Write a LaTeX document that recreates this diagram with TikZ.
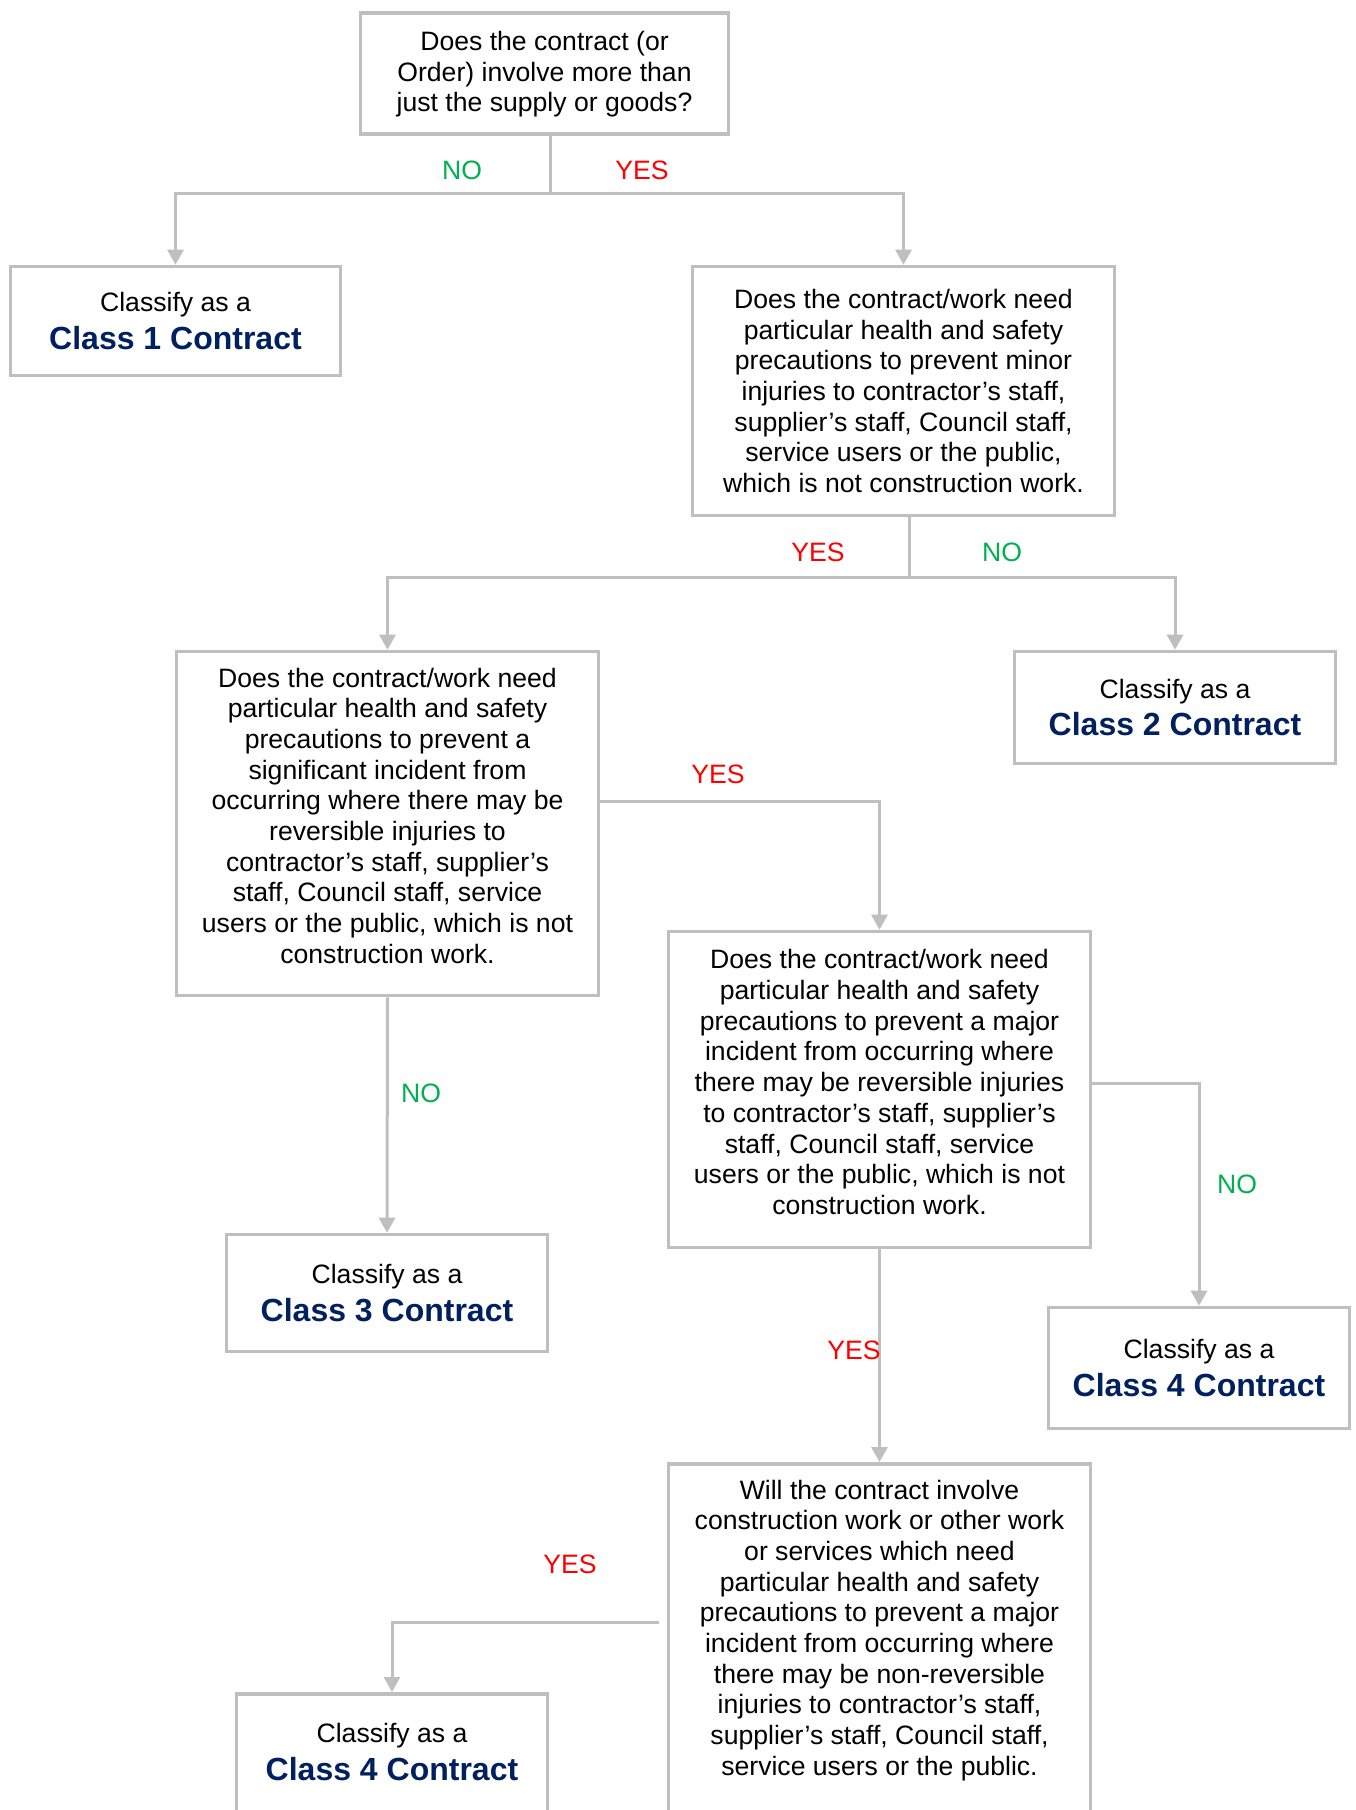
\documentclass[tikz,border=0pt]{standalone}
\usepackage{fontspec}
\setmainfont{Liberation Sans}
\usetikzlibrary{arrows.meta,calc}
\definecolor{lgray}{HTML}{BFBFBF}
\definecolor{navyc}{HTML}{002060}
\definecolor{nogreen}{HTML}{00B050}
\definecolor{yesred}{HTML}{FF0000}
\newcommand\clstext[1]{Classify as a\\[7pt]{\fontsize{32pt}{35pt}\selectfont\bfseries\color{navyc}Class #1 Contract}}
\begin{document}
\begin{tikzpicture}[x=1pt,y=-1pt,
  qbox/.style={draw=lgray, line width=3.6pt, fill=white, inner sep=0pt, align=center,
    font=\fontsize{26.6pt}{30.7pt}\selectfont},
  plaintext/.style={inner sep=0pt, align=center, font=\fontsize{26.6pt}{30.7pt}\selectfont},
  conn/.style={draw=lgray, line width=3pt, -{Triangle[width=16pt,length=15pt]}},
  link/.style={draw=lgray, line width=3pt},
  yeslbl/.style={inner sep=0pt, text=yesred, font=\fontsize{26.6pt}{30.7pt}\selectfont},
  nolbl/.style={inner sep=0pt, text=nogreen, font=\fontsize{26.6pt}{30.7pt}\selectfont},
]
\useasboundingbox (0,0) rectangle (1355,1810);
\clip (0,0) rectangle (1355,1810);

% boxes
\node[qbox, minimum width=368pt, minimum height=121pt] (q1) at (544.5,73.5)
  {\rule{0pt}{21pt}Does the contract (or\\Order) involve more than\\just the supply or goods?};
\node[qbox, minimum width=330pt, minimum height=109pt] (c1) at (175.5,321) {\clstext{1}};
\node[qbox, minimum width=422pt, minimum height=249pt] (q2) at (903.5,391)
  {Does the contract/work need\\particular health and safety\\precautions to prevent minor\\injuries to contractor’s staff,\\supplier’s staff, Council staff,\\service users or the public,\\which is not construction work.};
\node[qbox, minimum width=422pt, minimum height=344pt] (q3) at (387.5,823.5)
  {Does the contract/work need\\particular health and safety\\precautions to prevent a\\significant incident from\\occurring where there may be\\reversible injuries to\\contractor’s staff, supplier’s\\staff, Council staff, service\\users or the public, which is not\\construction work.\rule[-16pt]{0pt}{16pt}};
\node[qbox, minimum width=321pt, minimum height=112pt] (c2) at (1175,707.5) {\clstext{2}};
\node[qbox, minimum width=422pt, minimum height=316pt] (q4) at (879.5,1089.5)
  {Does the contract/work need\\particular health and safety\\precautions to prevent a major\\incident from occurring where\\there may be reversible injuries\\to contractor’s staff, supplier’s\\staff, Council staff, service\\users or the public, which is not\\construction work.\rule[-15pt]{0pt}{15pt}};
\node[qbox, minimum width=321pt, minimum height=117pt] (c3) at (387,1293) {\clstext{3}};
\node[qbox, minimum width=301pt, minimum height=121pt] (c4r) at (1199,1368) {\clstext{4}};
\node[qbox, anchor=north, minimum width=422pt, minimum height=420pt] (q5box) at (879.5,1462) {};
\node[plaintext, anchor=north] (q5) at (879.5,1479.6)
  {Will the contract involve\\construction work or other work\\or services which need\\particular health and safety\\precautions to prevent a major\\incident from occurring where\\there may be non-reversible\\injuries to contractor’s staff,\\supplier’s staff, Council staff,\\service users or the public.};
\node[qbox, anchor=north, minimum width=311pt, minimum height=200pt] (c4lbox) at (392,1692) {};
\node[plaintext] (c4l) at (392,1752) {\clstext{4}};

% connectors
\coordinate (j1) at (550,193);
\draw[link] (q1.south -| j1) -- (j1);
\draw[conn] (j1) -| (c1.north);
\draw[conn] (j1) -| (q2.north);
\node[nolbl] (n1) at (462,170) {NO};
\node[yeslbl] (y1) at (642,170) {YES};

\coordinate (j2) at (909,577);
\draw[link] (q2.south -| j2) -- (j2);
\draw[conn] (j2) -| (q3.north);
\draw[conn] (j2) -| (c2.north);
\node[yeslbl] (y2) at (818,552) {YES};
\node[nolbl] (n2) at (1002,552) {NO};

\coordinate (k3) at (880,801);
\draw[conn] (q3.east |- k3) -| (q4.north);
\node[yeslbl] (y3) at (718,774) {YES};

\draw[conn] (q3.south) -- (c3.north);
\node[nolbl] (n3) at (421,1093) {NO};

\coordinate (k4) at (1198,1083);
\draw[conn] (q4.east |- k4) -| (c4r.north);
\node[nolbl] (n4) at (1237,1184) {NO};

\draw[conn] (q4.south) -- (q5box.north);
\node[yeslbl] (y4) at (854,1350) {YES};

\coordinate (k5) at (659,1622);
\draw[conn] (k5) -| (c4lbox.north);
\node[yeslbl] (y5) at (570,1564) {YES};
\end{tikzpicture}
\end{document}
